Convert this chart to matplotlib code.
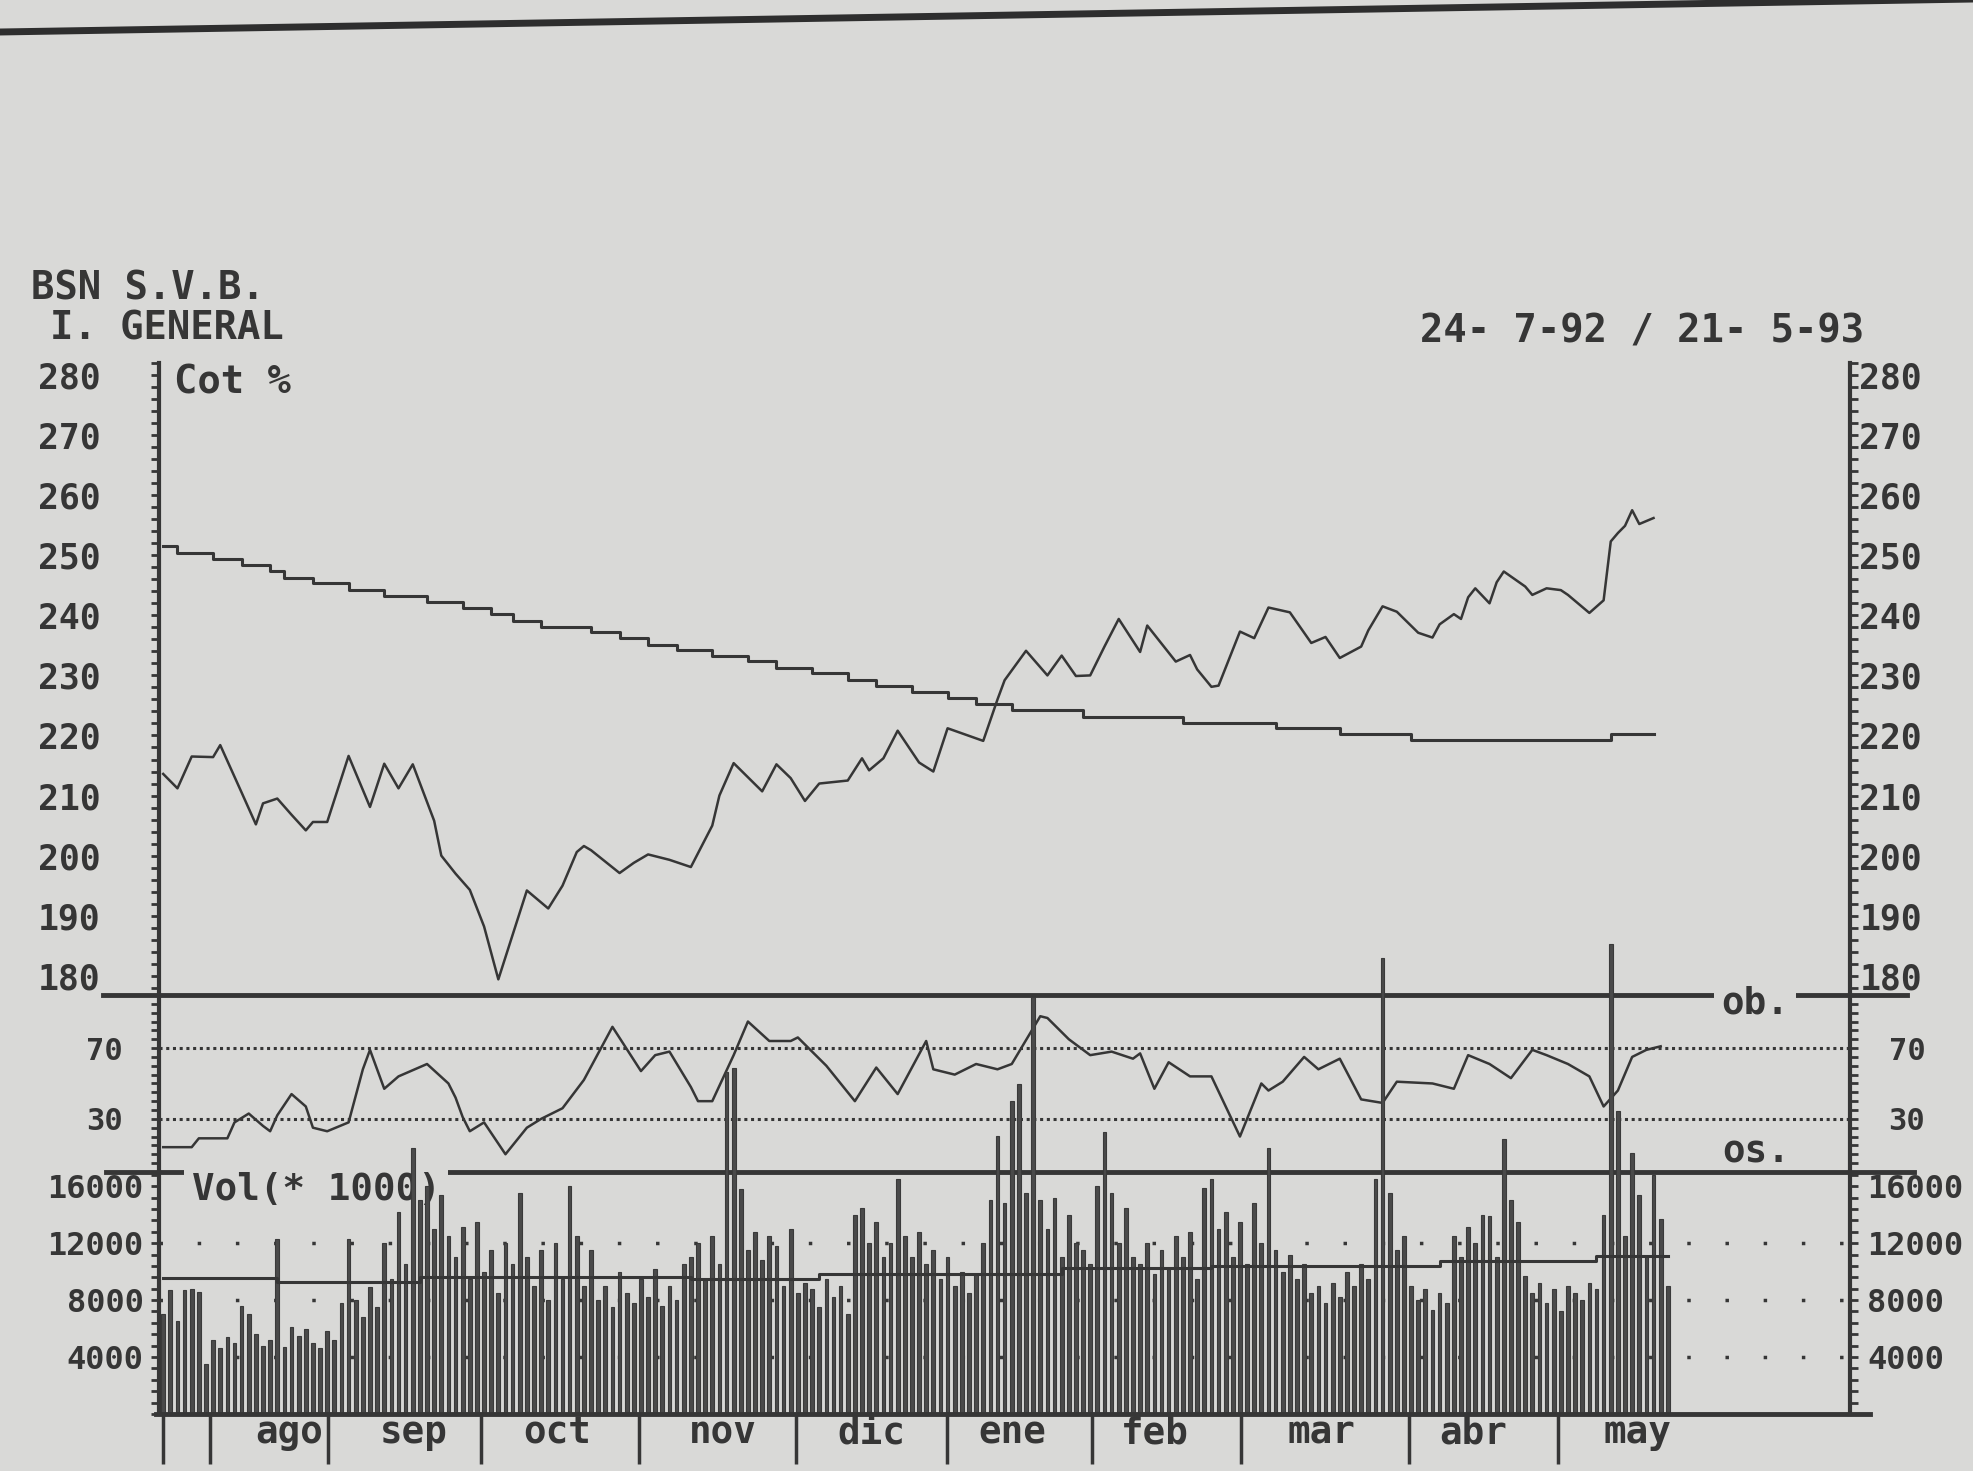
import matplotlib
matplotlib.use("Agg")
import matplotlib.pyplot as plt
from matplotlib.lines import Line2D
from matplotlib.ticker import MultipleLocator, FixedLocator

plt.rcParams["font.family"] = "DejaVu Sans Mono"
plt.rcParams["font.weight"] = "bold"

# Indice General, Bolsa de Madrid (S.V.B.), 24-7-92 / 21-5-93
# x = trading day counted from 24 July 1992
price_day = [0, 2, 4, 7, 8, 11, 13, 14, 16, 18,
             20, 21, 23, 26, 29, 31, 33, 35, 38, 39,
             41, 43, 45, 47, 51, 54, 56, 58, 59, 60,
             64, 66, 68, 71, 74, 77, 78, 80, 84, 86,
             88, 90, 92, 96, 98, 99, 101, 103, 106, 108,
             110, 115, 117, 118, 121, 124, 126, 128, 130, 132,
             134, 137, 138, 142, 144, 145, 147, 148, 151, 153,
             155, 158, 161, 163, 165, 168, 169, 171, 173, 176,
             178, 179, 181, 182, 183, 184, 186, 187, 188, 191,
             192, 194, 196, 197, 200, 202, 203, 204, 205, 206,
             207, 209]
price_val = [213.6, 211.2, 216.5, 216.4, 218.4, 210.5, 205.2, 208.7, 209.5, 206.8,
             204.2, 205.6, 205.6, 216.6, 208.1, 215.3, 211.2, 215.2, 205.8, 200.0,
             197.0, 194.3, 188.2, 179.4, 194.2, 191.2, 195.0, 200.6, 201.6, 200.9,
             197.1, 198.8, 200.2, 199.3, 198.1, 205.0, 210.0, 215.4, 210.7, 215.2,
             212.9, 209.1, 212.0, 212.5, 216.2, 214.2, 216.2, 220.8, 215.5, 214.0,
             221.2, 219.1, 226.0, 229.2, 234.1, 230.0, 233.3, 229.9, 230.0, 234.8,
             239.4, 233.9, 238.3, 232.3, 233.4, 231.0, 228.1, 228.3, 237.3, 236.2,
             241.3, 240.5, 235.4, 236.4, 232.9, 234.8, 237.5, 241.5, 240.6, 237.1,
             236.3, 238.5, 240.2, 239.4, 243.0, 244.5, 242.0, 245.5, 247.3, 244.8,
             243.4, 244.5, 244.2, 243.4, 240.4, 242.5, 252.3, 253.7, 254.9, 257.5,
             255.2, 256.2]

# long moving average (stepped)
ma_day = [0, 2, 7, 11, 15, 17, 21, 26, 31, 37,
          42, 46, 49, 53, 60, 64, 68, 72, 77, 82,
          86, 91, 96, 100, 105, 110, 114, 119, 129, 143,
          156, 165, 175, 203, 209]
ma_val = [251.5, 250.4, 249.3, 248.4, 247.3, 246.2, 245.4, 244.3, 243.3, 242.3,
          241.2, 240.2, 239.1, 238.1, 237.2, 236.3, 235.0, 234.3, 233.3, 232.4,
          231.2, 230.4, 229.2, 228.2, 227.2, 226.3, 225.2, 224.2, 223.1, 222.1,
          221.2, 220.2, 219.2, 220.3, 220.3]

# oscillator (overbought 70 / oversold 30)
osc_day = [0, 4, 5, 9, 10, 12, 14, 15, 16, 18,
           20, 21, 23, 26, 28, 29, 31, 33, 37, 40,
           41, 42, 43, 45, 48, 51, 53, 56, 59, 61,
           63, 67, 69, 71, 74, 75, 77, 80, 82, 85,
           88, 89, 91, 93, 97, 100, 103, 107, 108, 111,
           114, 117, 119, 123, 124, 127, 130, 133, 136, 137,
           139, 141, 144, 147, 151, 154, 155, 157, 160, 162,
           165, 168, 171, 173, 178, 181, 183, 186, 189, 192,
           194, 197, 200, 202, 204, 206, 208, 210]
osc_val = [14, 14, 19, 19, 28, 33, 26, 23, 32, 44,
           37, 25, 23, 28, 58, 69, 47, 54, 61, 50,
           42, 31, 23, 28, 10, 25, 30, 36, 52, 67,
           82, 57, 66, 68, 48, 40, 40, 66, 85, 74,
           74, 76, 68, 60, 40, 59, 44, 74, 58, 55,
           61, 58, 61, 88, 87, 75, 66, 68, 64, 67,
           47, 62, 54, 54, 20, 50, 46, 51, 65, 58,
           64, 41, 39, 51, 50, 47, 66, 61, 53, 69,
           66, 61, 54, 37, 46, 65, 69, 71]

# daily volume (* 1000), one bar per trading day
volume = [7000, 8700, 6500, 8700, 8800, 8600, 3500, 5200, 4600, 5400,
          5000, 7600, 7000, 5600, 4800, 5200, 12300, 4700, 6100, 5500,
          6000, 5000, 4600, 5800, 5200, 7800, 12300, 8000, 6800, 8900,
          7500, 12000, 9500, 14200, 10500, 18700, 15000, 16000, 13000, 15400,
          12500, 11000, 13100, 9500, 13500, 10000, 11500, 8500, 12000, 10500,
          15500, 11000, 9000, 11500, 8000, 12000, 9500, 16000, 12500, 9000,
          11500, 8000, 9000, 7500, 10000, 8500, 7800, 9500, 8200, 10200,
          7600, 9000, 8000, 10500, 11000, 12000, 9500, 12500, 10500, 24000,
          24300, 15800, 11500, 12800, 10800, 12500, 11800, 9000, 13000, 8500,
          9200, 8800, 7500, 9500, 8200, 9000, 7000, 14000, 14500, 12000,
          13500, 11000, 12000, 16500, 12500, 11000, 12800, 10500, 11500, 9500,
          11000, 9000, 10000, 8500, 9800, 12000, 15000, 19500, 14800, 22000,
          23200, 15500, 29300, 15000, 13000, 15200, 11000, 14000, 12000, 11500,
          10500, 16000, 19800, 15500, 12000, 14500, 11000, 10500, 12000, 9800,
          11500, 10200, 12500, 11000, 12800, 9500, 15900, 16500, 13000, 14200,
          11000, 13500, 10500, 14800, 12000, 18700, 11500, 10000, 11200, 9500,
          10500, 8500, 9000, 7800, 9200, 8200, 10000, 9000, 10500, 9500,
          16500, 32000, 15500, 11500, 12500, 9000, 8000, 8800, 7300, 8500,
          7800, 12500, 11000, 13100, 12000, 14000, 13900, 11000, 19300, 15000,
          13500, 9700, 8500, 9200, 7800, 8800, 7200, 9000, 8500, 8000,
          9200, 8800, 14000, 33000, 21300, 12500, 18300, 15400, 11000, 16800,
          13700, 9000]

vol_ma_day = [0, 16, 36, 74, 92, 112, 126, 147, 179, 201, 211]
vol_ma_val = [9530, 9270, 9620, 9490, 9820, 9860, 10240, 10410, 10730, 11070, 11070]

month_starts = [0, 6.6, 23.1, 44.6, 66.7, 88.7, 109.9, 130.2, 151.1, 174.7, 195.6]
month_mid = [17.6, 35.1, 55.2, 78.5, 99.3, 119.1, 139.1, 162.4, 183.7, 206.7]
month_names = ["ago", "sep", "oct", "nov", "dic", "ene", "feb", "mar", "abr", "may"]

paper = "#d9d9d7"
ink = "#363636"
XMIN, XMAX = -0.6, 236.5

fig = plt.figure(figsize=(19.74, 14.71), dpi=100, facecolor=paper)
L, W = 0.0805, 0.8565
ax_p = fig.add_axes([L, 0.3236, W, 0.4296])
ax_o = fig.add_axes([L, 0.2033, W, 0.1203])
ax_v = fig.add_axes([L, 0.0388, W, 0.1645])


def frame(ax, ylim, major, minor, size, lpad):
    ax.set_facecolor("none")
    ax.set_xlim(XMIN, XMAX)
    ax.set_ylim(*ylim)
    for s in ("top", "bottom"):
        ax.spines[s].set_visible(False)
    for s in ("left", "right"):
        ax.spines[s].set_linewidth(3)
        ax.spines[s].set_color(ink)
    ax.yaxis.set_major_locator(FixedLocator(major))
    ax.yaxis.set_minor_locator(MultipleLocator(minor))
    ax.tick_params(axis="x", which="both", bottom=False, labelbottom=False)
    ax.tick_params(axis="y", which="both", direction="out", length=6, width=2,
                   color=ink, left=True, right=False)
    ax.tick_params(axis="y", which="major", labelsize=size, pad=lpad, labelcolor=ink)


def right_labels(ax, ylim, major, minor, size, rpad):
    t = ax.twinx()
    t.set_ylim(*ylim)
    for s in t.spines.values():
        s.set_visible(False)
    t.yaxis.set_major_locator(FixedLocator(major))
    t.yaxis.set_minor_locator(MultipleLocator(minor))
    t.tick_params(axis="y", which="both", direction="out", length=6, width=2,
                  color=ink, left=False, right=True, labelleft=False, labelright=True)
    t.tick_params(axis="y", which="major", labelsize=size, pad=rpad, labelcolor=ink)


# price panel
frame(ax_p, (176.8, 282), range(180, 281, 10), 2, 25, 36)
right_labels(ax_p, (176.8, 282), range(180, 281, 10), 2, 25, 1)
ax_p.plot(price_day, price_val, color=ink, lw=1.8)
ax_p.plot(ma_day, ma_val, color=ink, lw=2.2, drawstyle="steps-post")

# oscillator panel
frame(ax_o, (0, 100), [30, 70], 5, 22, 20)
right_labels(ax_o, (0, 100), [30, 70], 5, 22, 22)
for lvl in (30, 70):
    ax_o.axhline(lvl, color=ink, lw=2.2, ls=(0, (1, 1.2)))
ax_o.plot(osc_day, osc_val, color=ink, lw=1.8)
ax_o.plot([-0.033, 1.034], [1, 1], transform=ax_o.transAxes, color=ink,
          lw=3.5, clip_on=False, zorder=2)
ax_o.text(0.944, 95, "ob.", transform=ax_o.get_yaxis_transform(), ha="center",
          va="center", fontsize=27, color=ink, zorder=3,
          bbox=dict(boxstyle="square,pad=0.2", fc=paper, ec="none"))
ax_o.text(0.945, 11, "os.", transform=ax_o.get_yaxis_transform(), ha="center",
          va="center", fontsize=27, color=ink)

# volume panel
frame(ax_v, (0, 17000), [4000, 8000, 12000, 16000], 800, 23, 5)
right_labels(ax_v, (0, 17000), [4000, 8000, 12000, 16000], 800, 23, 6.5)
for lvl in (4000, 8000, 12000):
    ax_v.axhline(lvl, color=ink, lw=2.5, ls=(0, (1, 10)), zorder=1)
ax_v.bar(range(len(volume)), volume, width=0.52, facecolor="#4a4a4a",
         edgecolor="#3a3a3a", lw=0.8, clip_on=False, zorder=3)
ax_v.plot(vol_ma_day, vol_ma_val, color=ink, lw=2.2, drawstyle="steps-post", zorder=4)
ax_v.plot([-0.031, 1.038], [1, 1], transform=ax_v.transAxes, color=ink,
          lw=3.5, clip_on=False, zorder=1.5)
ax_v.plot([-0.002, 1.012], [0, 0], transform=ax_v.transAxes, color=ink,
          lw=3.5, clip_on=False, zorder=4)
ax_v.text(0.0195, 1.0, "Vol(* 1000)", transform=ax_v.transAxes, ha="left", va="top",
          fontsize=27, color=ink, zorder=2,
          bbox=dict(boxstyle="square,pad=0.2", fc=paper, ec="none"))

ax_v.set_xticks(month_starts)
ax_v.set_xticklabels([])
ax_v.set_xticks(month_mid, minor=True)
ax_v.set_xticklabels(month_names, minor=True)
ax_v.tick_params(axis="x", which="major", bottom=True, direction="out",
                 length=36, width=2.5, color=ink)
ax_v.tick_params(axis="x", which="minor", bottom=True, length=0, pad=1,
                 labelbottom=True, labelsize=27, labelcolor=ink)

# headings
fig.text(31 / 1974, 1 - 269 / 1471, "BSN S.V.B.", ha="left", va="top", fontsize=28, color=ink)
fig.text(50 / 1974, 1 - 310 / 1471, "I. GENERAL", ha="left", va="top", fontsize=28, color=ink)
fig.text(174 / 1974, 1 - 363 / 1471, "Cot %", ha="left", va="top", fontsize=28, color=ink)
fig.text(1420 / 1974, 1 - 313 / 1471, "24- 7-92 / 21- 5-93", ha="left", va="top",
         fontsize=28, color=ink)

# rule across the top of the page
fig.add_artist(Line2D([0, 1], [1 - 32 / 1471, 1 + 1 / 1471], transform=fig.transFigure,
                      lw=5, color="#2e2e2e"))

fig.savefig("out.png", dpi=100, facecolor=paper)
